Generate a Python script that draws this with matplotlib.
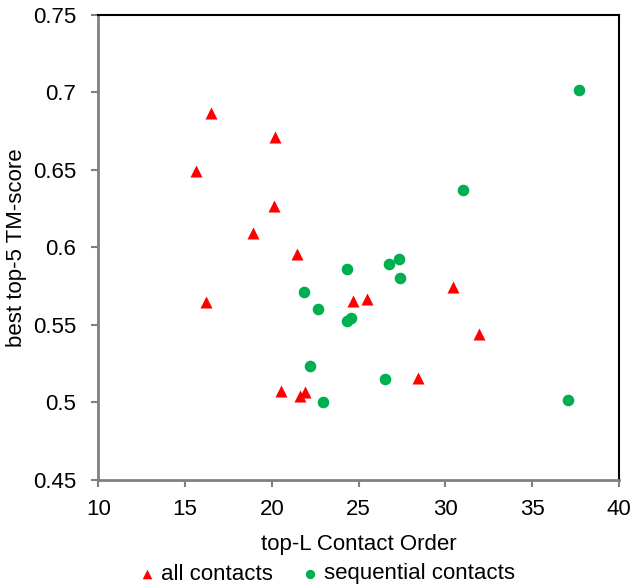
import matplotlib
matplotlib.use("Agg")
import matplotlib.pyplot as plt

plt.rcParams['font.family'] = ['Liberation Sans', 'DejaVu Sans']

# all contacts (red triangles)
all_x = [16.5, 20.16, 15.64, 20.14, 18.9, 21.45, 16.2, 24.68, 25.49,
         20.5, 21.6, 21.93, 30.43, 31.93, 28.39]
all_y = [0.687, 0.6715, 0.6494, 0.6268, 0.6092, 0.5958, 0.565, 0.5657, 0.5666,
         0.5074, 0.5042, 0.507, 0.5747, 0.544, 0.516]

# sequential contacts (green circles)
seq_x = [37.72, 31.03, 24.33, 26.75, 21.87, 22.66, 24.33, 24.58, 22.17,
         22.93, 26.54, 27.33, 27.39, 37.08]
seq_y = [0.7016, 0.637, 0.586, 0.5892, 0.5715, 0.5605, 0.5528, 0.5545, 0.5238,
         0.5005, 0.5152, 0.5928, 0.5801, 0.5018]

xticks = [10, 15, 20, 25, 30, 35, 40]
yticks = [0.45, 0.5, 0.55, 0.6, 0.65, 0.7, 0.75]
ytick_labels = ['0.45', '0.5', '0.55', '0.6', '0.65', '0.7', '0.75']

fig = plt.figure(figsize=(6.39, 5.88), dpi=100)
ax = fig.add_axes([0.1538, 0.1837, 0.815, 0.7908])

ax.scatter(all_x, all_y, marker='^', s=75, color='#FF0000', linewidths=0,
           label='all contacts', zorder=3)
ax.scatter(seq_x, seq_y, marker='o', s=70, color='#00B050', linewidths=0,
           label='sequential contacts', zorder=3)

ax.set_xlim(10, 40)
ax.set_ylim(0.45, 0.75)
ax.set_xticks(xticks)
ax.set_yticks(yticks)
ax.set_yticklabels(ytick_labels)

for side in ['left', 'bottom']:
    ax.spines[side].set_color('#808080')
    ax.spines[side].set_linewidth(2)
for side in ['top', 'right']:
    ax.spines[side].set_color('black')
    ax.spines[side].set_linewidth(1.5)

ax.tick_params(axis='both', direction='out', length=5, width=1.5,
               color='#808080', labelsize=16, labelcolor='black', pad=9)
ax.tick_params(axis='y', pad=11)

ax.set_xlabel('top-L Contact Order', fontsize=16, labelpad=10)
ax.set_ylabel('best top-5 TM-score', fontsize=16, labelpad=4)

fig.legend(*ax.get_legend_handles_labels(), loc='center',
           bbox_to_anchor=(0.513, 1 - 574 / 588), ncol=2,
           frameon=False, fontsize=16, markerscale=0.8, handlelength=0.6,
           handletextpad=0.3, columnspacing=1.4, borderaxespad=0,
           borderpad=0)

fig.savefig('out.png', dpi=100)
